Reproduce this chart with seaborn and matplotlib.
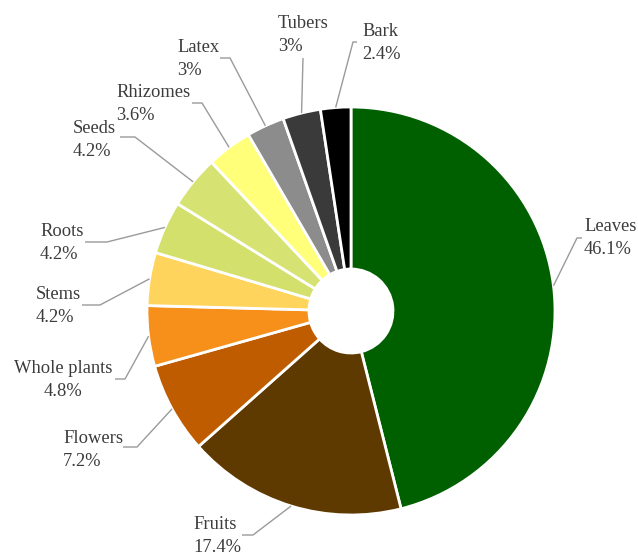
import numpy as np
import matplotlib
matplotlib.use("Agg")
import matplotlib.pyplot as plt
import seaborn as sns

# ---- data ----
categories = ["Leaves", "Fruits", "Flowers", "Whole plants", "Stems", "Roots",
              "Seeds", "Rhizomes", "Latex", "Tubers", "Bark"]
values = [46.1, 17.4, 7.2, 4.8, 4.2, 4.2, 4.2, 3.6, 3.0, 3.0, 2.4]
colors = ["#006000", "#5f3a00", "#c05c00", "#f6901a", "#ffd45c", "#d3e06c",
          "#d6e372", "#ffff7a", "#8c8c8c", "#3a3a3a", "#000000"]

# ---- layout (pixel coords, y from top) ----
W, H = 638, 555
CX, CY, R = 351, 311, 204
HOLE = 42
# elbow point, end of horizontal segment, text x, text block centre y, alignment
layout = {
    "Leaves":       ((577, 238), 582, 584, 238, "left"),
    "Fruits":       ((253, 535), 242, 193, 536, "left"),
    "Flowers":      ((137, 447), 123, 63, 450, "left"),
    "Whole plants": ((125, 379), 115, 63, 380, "center"),
    "Stems":        ((100, 305), 82, 36, 306, "left"),
    "Roots":        ((107, 242), 85, 40, 243, "left"),
    "Seeds":        ((135, 137), 120, 73, 140, "left"),
    "Rhizomes":     ((202, 103), 192, 116, 104, "left"),
    "Latex":        ((230, 58), 220, 177, 59, "left"),
    "Tubers":       ((303, 58), 303, 278, 35, "left"),
    "Bark":         ((353, 42), 357, 362, 43, "left"),
}
LINE_GAP = 23
FONT = ["Liberation Serif", "DejaVu Serif"]

sns.set_theme(style="white")
plt.rcParams["font.family"] = FONT

fig = plt.figure(figsize=(W / 100, H / 100), dpi=100)
ax = fig.add_axes([0, 0, 1, 1])

wedges, _ = ax.pie(values, colors=colors, startangle=90, counterclock=False,
                   radius=R, center=(CX, H - CY),
                   wedgeprops=dict(width=R - HOLE, edgecolor="white", linewidth=2))
ax.set_xlim(0, W)
ax.set_ylim(0, H)
ax.set_aspect("equal")
ax.axis("off")

text_color = "#3c3c3c"
line_color = "#9a9a9a"
for w, name, v in zip(wedges, categories, values):
    mid = np.deg2rad((w.theta1 + w.theta2) / 2)
    ax0 = CX + R * np.cos(mid)
    ay0 = (H - CY) + R * np.sin(mid)
    (ex, ey), endx, tx, ty, ha = layout[name]
    ax.plot([ax0, ex, endx], [ay0, H - ey, H - ey], color=line_color, lw=1,
            solid_capstyle="butt")
    ax.text(tx, H - (ty - LINE_GAP / 2), name, ha=ha, va="center",
            fontsize=13.3, color=text_color, family=FONT)
    ax.text(tx, H - (ty + LINE_GAP / 2), f"{v:g}%", ha=ha, va="center",
            fontsize=13.3, color=text_color, family=FONT)

fig.savefig("out.png", dpi=100)
